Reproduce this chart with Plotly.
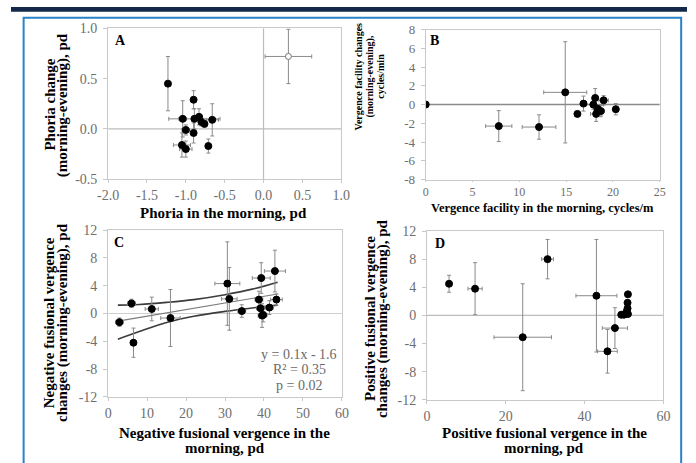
import plotly.graph_objects as go

W, H = 696, 463

# ---------------- data ----------------
# Panel A: phoria
a_x = [-1.23, -1.04, -0.90, -0.89, -0.83, -0.66, -0.76, -0.80, -1.00, -0.90, -1.05, -1.00, -0.71]
a_y = [0.45, 0.10, 0.29, 0.10, 0.12, 0.09, 0.05, 0.07, -0.01, -0.04, -0.16, -0.20, -0.17]
a_ex = [0.03, 0.05, 0.03, 0.33, 0.04, 0.08, 0.03, 0.03, 0.05, 0.03, 0.11, 0.08, 0.03]
a_ey = [0.27, 0.18, 0.09, 0.10, 0.08, 0.16, 0.03, 0.04, 0.05, 0.10, 0.12, 0.08, 0.07]
a_open_x = [0.32]
a_open_y = [0.72]
a_open_ex = [0.30]
a_open_ey = [0.27]

# Panel B: vergence facility
b_x = [0.0, 7.8, 12.1, 14.9, 16.2, 16.85, 17.9, 18.1, 19.0, 18.35, 18.7, 18.2, 20.3]
b_y = [0.0, -2.3, -2.4, 1.3, -1.0, 0.1, 0.0, 0.7, 0.45, -0.45, -0.7, -1.0, -0.5]
b_ex = [0.0, 1.4, 1.8, 2.3, 0.1, 0.3, 1.1, 0.3, 0.5, 0.4, 0.4, 0.6, 0.1]
b_ey = [0.0, 1.65, 1.3, 5.4, 0.1, 0.8, 0.5, 1.0, 0.5, 0.4, 0.6, 0.8, 0.6]

# Panel C: negative fusional vergence
c_x = [2.9, 6.0, 6.5, 11.2, 16.0, 30.6, 31.1, 34.3, 38.7, 39.3, 39.1, 39.5, 39.8, 41.4, 42.8, 43.2]
c_y = [-1.25, 1.45, -4.2, 0.65, -0.65, 4.3, 2.1, 0.35, 2.0, 5.1, 0.75, -0.3, -0.2, 0.85, 6.1, 2.0]
c_ex = [1.0, 1.0, 0.6, 1.7, 2.5, 3.2, 2.0, 1.0, 1.0, 2.3, 1.0, 1.0, 1.0, 1.0, 2.7, 1.5]
c_ey = [0.6, 0.6, 2.1, 1.7, 4.1, 6.0, 4.5, 0.9, 1.2, 2.2, 1.2, 1.7, 1.0, 1.0, 3.0, 0.8]
c_fit_x = [2.5, 43.5]
c_fit_y = [-1.1, 2.8]
c_band_x = [2.5, 8, 15, 22, 30, 37, 43.5]
c_upper_y = [1.2, 1.3, 1.6, 2.0, 2.7, 3.5, 4.5]
c_lower_y = [-3.7, -2.6, -1.3, -0.4, 0.3, 0.8, 1.2]
c_stats = ["y = 0.1x - 1.6", "R² = 0.35", "p = 0.02"]

# Panel D: positive fusional vergence
d_x = [5.6, 12.2, 24.3, 30.6, 43.0, 45.8, 47.7, 49.3, 50.0, 50.6, 50.9, 50.9, 51.0, 51.0]
d_y = [4.5, 3.8, -3.1, 8.0, 2.8, -5.1, -1.8, 0.1, 0.1, 0.5, 1.0, 1.8, 3.0, 0.2]
d_ex = [0.6, 1.8, 7.3, 1.5, 5.2, 2.5, 3.2, 0.2, 0.2, 0.2, 0.2, 0.2, 0.2, 0.2]
d_ey = [1.2, 3.7, 7.6, 2.8, 8.0, 3.1, 2.9, 0.1, 0.1, 0.1, 0.1, 0.1, 0.1, 0.1]

# tick labels
a_xticks = [-2.0, -1.5, -1.0, -0.5, 0.0, 0.5, 1.0]
a_xtext = ["-2.0", "-1.5", "-1.0", "-0.5", "0.0", "0.5", "1.0"]
a_yticks = [-0.5, 0.0, 0.5, 1.0]
a_ytext = ["-0.5", "0.0", "0.5", "1.0"]
b_xticks = [0, 5, 10, 15, 20, 25]
b_xtext = ["0", "5", "10", "15", "20", "25"]
b_yticks = [-8, -6, -4, -2, 0, 2, 4, 6, 8]
b_ytext = ["-8", "-6", "-4", "-2", "0", "2", "4", "6", "8"]
c_xticks = [0, 10, 20, 30, 40, 50, 60]
c_xtext = ["0", "10", "20", "30", "40", "50", "60"]
cd_yticks = [-12, -8, -4, 0, 4, 8, 12]
cd_ytext = ["-12", "-8", "-4", "0", "4", "8", "12"]
d_xticks = [0, 20, 40, 60]
d_xtext = ["0", "20", "40", "60"]

# titles (one entry per printed line)
a_ytitle = ["Phoria change", "(morning-evening), pd"]
a_xtitle = ["Phoria in the morning, pd"]
b_ytitle = ["Vergence facility changes", "(morning-evening),", "cycles/min"]
b_xtitle = ["Vergence facility in the morning, cycles/m"]
c_ytitle = ["Negative fusional vergence", "changes (morning-evening), pd"]
c_xtitle = ["Negative fusional vergence in the", "morning, pd"]
d_ytitle = ["Positive fusional vergence", "changes (morning-evening), pd"]
d_xtitle = ["Positive fusional vergence in the", "morning, pd"]

# ---------------- layout helpers ----------------
def px_x(p):
    return p / W

def px_y(p):
    return 1 - p / H

FONT = "Liberation Serif, Times New Roman, serif"
TICKCOL = "#6e6e6e"
ERRCOL = "#8a8a8a"
BOXCOL = "#c9c9c9"

fig = go.Figure()

def add_points(x, y, ex, ey, xa, ya, fill="black", line="black", size=7):
    fig.add_trace(go.Scatter(
        x=x, y=y, mode="markers", xaxis=xa, yaxis=ya, showlegend=False,
        marker=dict(color=fill, size=size, line=dict(color=line, width=1)),
        error_x=dict(type="data", array=ex, color=ERRCOL, thickness=1, width=2),
        error_y=dict(type="data", array=ey, color=ERRCOL, thickness=1, width=2),
    ))

# Panel A
add_points(a_x, a_y, a_ex, a_ey, "x", "y")
add_points(a_open_x, a_open_y, a_open_ex, a_open_ey, "x", "y", fill="white", line="#777", size=6)
# Panel B
add_points(b_x, b_y, b_ex, b_ey, "x2", "y2")
# Panel C
fig.add_trace(go.Scatter(x=c_band_x, y=c_upper_y, mode="lines", xaxis="x3", yaxis="y3",
                         line=dict(color="#3c3c3c", width=1.6, shape="spline"), showlegend=False))
fig.add_trace(go.Scatter(x=c_band_x, y=c_lower_y, mode="lines", xaxis="x3", yaxis="y3",
                         line=dict(color="#3c3c3c", width=1.6, shape="spline"), showlegend=False))
fig.add_trace(go.Scatter(x=c_fit_x, y=c_fit_y, mode="lines", xaxis="x3", yaxis="y3",
                         line=dict(color="#7a7a7a", width=1.1), showlegend=False))
add_points(c_x, c_y, c_ex, c_ey, "x3", "y3")
# Panel D
add_points(d_x, d_y, d_ex, d_ey, "x4", "y4")

def axis(dom, rng, tv, tt, anchor, vertical=False, fsize=14, tlen=None):
    d = dict(domain=dom, range=rng, tickvals=tv, ticktext=tt, anchor=anchor,
             showgrid=False, zeroline=False, showline=True, linecolor=BOXCOL,
             linewidth=1, mirror=True, ticks="outside",
             ticklen=tlen if tlen is not None else (4 if vertical else 3),
             tickcolor=BOXCOL,
             tickfont=dict(family=FONT, size=fsize, color=TICKCOL), fixedrange=True)
    if vertical:
        d["ticklabelstandoff"] = 3
    return d

fig.update_layout(
    width=W, height=H, margin=dict(l=0, r=0, t=0, b=0),
    paper_bgcolor="white", plot_bgcolor="white",
    xaxis=axis([px_x(100), px_x(340)], [-2, 1], a_xticks, a_xtext, "y"),
    yaxis=axis([px_y(178), px_y(22)], [-0.5, 1], a_yticks, a_ytext, "x", True),
    xaxis2=axis([px_x(427), px_x(668)], [0, 25], b_xticks, b_xtext, "y2", fsize=12, tlen=1),
    yaxis2=axis([px_y(178.3), px_y(23.3)], [-8, 8], b_yticks, b_ytext, "x2", True, fsize=13),
    xaxis3=axis([px_x(100), px_x(340.7)], [0, 60], c_xticks, c_xtext, "y3"),
    yaxis3=axis([px_y(403), px_y(230.5)], [-12, 12], cd_yticks, cd_ytext, "x3", True),
    xaxis4=axis([px_x(428.3), px_x(671.7)], [0, 60], d_xticks, d_xtext, "y4"),
    yaxis4=axis([px_y(406), px_y(231.5)], [-12, 12], cd_yticks, cd_ytext, "x4", True),
)

shapes = []
# dark band at top and blue frame
shapes.append(dict(type="rect", xref="paper", yref="paper", x0=0, x1=1, y0=px_y(5), y1=1,
                   fillcolor="#14284a", line=dict(width=0), layer="above"))
shapes.append(dict(type="rect", xref="paper", yref="paper", x0=px_x(13), x1=px_x(690),
                   y0=px_y(475), y1=px_y(11), line=dict(color="#2a82c8", width=2),
                   fillcolor="rgba(0,0,0,0)", layer="above"))
# reference lines
shapes.append(dict(type="line", xref="x", yref="y", x0=-2, x1=1, y0=0, y1=0,
                   line=dict(color="#bdbdbd", width=1.2), layer="below"))
shapes.append(dict(type="line", xref="x", yref="y", x0=0, x1=0, y0=-0.5, y1=1,
                   line=dict(color="#bdbdbd", width=1.2), layer="below"))
shapes.append(dict(type="line", xref="x2", yref="y2", x0=0, x1=25, y0=0, y1=0,
                   line=dict(color="#8a8a8a", width=1.4), layer="below"))
shapes.append(dict(type="line", xref="x3", yref="y3", x0=0, x1=60, y0=0, y1=0,
                   line=dict(color="#cfcfcf", width=1.2), layer="below"))
shapes.append(dict(type="line", xref="x4", yref="y4", x0=0, x1=60, y0=0, y1=0,
                   line=dict(color="#bdbdbd", width=1.2), layer="below"))
fig.update_layout(shapes=shapes)

ann = []
def text(x, y, s, size=15, bold=True, angle=0, color="black"):
    ann.append(dict(xref="paper", yref="paper", x=px_x(x), y=px_y(y),
                    text=("<b>" + s + "</b>") if bold else s,
                    showarrow=False, textangle=angle,
                    xanchor="center", yanchor="middle",
                    font=dict(family=FONT, size=size, color=color)))

def vlines(lines, xs, yc, size=15):
    for s, x in zip(lines, xs):
        text(x, yc, s, size=size, angle=-90)

def hlines(lines, xc, ys, size=15):
    for s, y in zip(lines, ys):
        text(xc, y, s, size=size)

# panel letters
text(113, 35, "A", size=14)
text(436, 35, "B", size=14)
text(111, 243, "C", size=14)
text(442, 244, "D", size=14)
# axis titles
vlines(a_ytitle, [40, 53], 101)
hlines(a_xtitle, 219, [213])
vlines(b_ytitle, [358, 369.5, 381], 72, size=10)
hlines(b_xtitle, 547, [208], size=12.5)
vlines(c_ytitle, [40, 53], 326)
hlines(c_xtitle, 220, [440, 456])
vlines(d_ytitle, [369, 382.5], 322)
hlines(d_xtitle, 549, [440, 456])
# regression statistics
for s, y in zip(c_stats, [359, 375, 391]):
    text(297, y, s, size=14, bold=False, color="#6a6a6a")
fig.update_layout(annotations=ann)

fig.write_html("out.html", config={"displayModeBar": False},
               post_script="document.body.style.margin='0';")
